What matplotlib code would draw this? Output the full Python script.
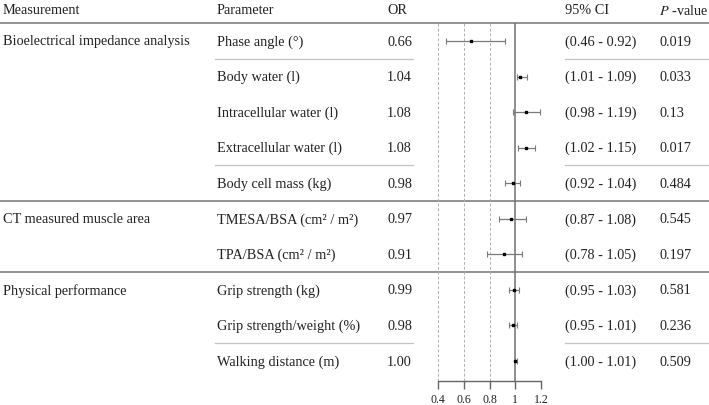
import numpy as np
import matplotlib.pyplot as plt

plt.rcParams['font.family'] = ['Liberation Serif', 'DejaVu Serif']
plt.rcParams['mathtext.fontset'] = 'stix'

# table data
groups = ['Bioelectrical impedance analysis', 'CT measured muscle area', 'Physical performance']
group_rows = [0, 5, 7]
params = ['Phase angle (°)', 'Body water (l)', 'Intracellular water (l)',
          'Extracellular water (l)', 'Body cell mass (kg)',
          'TMESA/BSA (cm² / m²)', 'TPA/BSA (cm² / m²)',
          'Grip strength (kg)', 'Grip strength/weight (%)', 'Walking distance (m)']
odds = [0.66, 1.04, 1.08, 1.08, 0.98, 0.97, 0.91, 0.99, 0.98, 1.00]
ci_low = [0.46, 1.01, 0.98, 1.02, 0.92, 0.87, 0.78, 0.95, 0.95, 1.00]
ci_high = [0.92, 1.09, 1.19, 1.15, 1.04, 1.08, 1.05, 1.03, 1.01, 1.01]
pvals = ['0.019', '0.033', '0.13', '0.017', '0.484', '0.545', '0.197', '0.581', '0.236', '0.509']
thin_after = [0, 3, 8]
xticks = [0.4, 0.6, 0.8, 1, 1.2]
xtick_labels = ['0.4', '0.6', '0.8', '1', '1.2']

W, H = 709, 406
fig = plt.figure(figsize=(W / 100, H / 100), dpi=100)

# background axes in pixel coords for the table
bg = fig.add_axes([0, 0, 1, 1])
bg.set_xlim(0, W)
bg.set_ylim(H, 0)
bg.axis('off')

row0, step = 42, 35.56
def ry(i):
    return row0 + step * i

fs = 10.3
tc = '#222222'
hy = 11
bg.text(3, hy, 'Measurement', fontsize=fs, va='center', color=tc)
bg.text(217, hy, 'Parameter', fontsize=fs, va='center', color=tc)
bg.text(387, hy, 'OR', fontsize=fs, va='center', color=tc)
bg.text(565, hy, '95% CI', fontsize=fs, va='center', color=tc)
bg.text(659, hy, r'$\mathit{P}$ -value', fontsize=fs, va='center', color=tc)

for g, r in zip(groups, group_rows):
    bg.text(3, ry(r), g, fontsize=fs, va='center', color=tc)

for i in range(len(params)):
    y = ry(i)
    bg.text(217, y, params[i], fontsize=fs, va='center', color=tc)
    bg.text(387, y, '%.2f' % odds[i], fontsize=fs, va='center', color=tc)
    bg.text(565, y, '(%.2f - %.2f)' % (ci_low[i], ci_high[i]), fontsize=fs, va='center', color=tc)
    bg.text(659, y, pvals[i], fontsize=fs, va='center', color=tc)

# thick separators
for yy in [24, (ry(4) + ry(5)) / 2, (ry(6) + ry(7)) / 2]:
    bg.plot([0, W], [yy, yy], color='#8a8a8a', lw=1.3, zorder=1)
# thin separators
for r in thin_after:
    yy = (ry(r) + ry(r + 1)) / 2
    bg.plot([215, 413], [yy, yy], color='#c4c4c4', lw=0.9)
    bg.plot([565, W], [yy, yy], color='#c4c4c4', lw=0.9)

# forest axes
x0, x1 = 438, 541
top, bot = 24, 382
ax = fig.add_axes([x0 / W, 1 - bot / H, (x1 - x0) / W, (bot - top) / H])
ax.patch.set_alpha(0)
ax.set_xlim(0.4, 1.2)
ax.set_ylim((bot - row0) / step, (top - row0) / step)
for s in ['top', 'right', 'left']:
    ax.spines[s].set_visible(False)
ax.spines['bottom'].set_color('#666666')
ax.spines['bottom'].set_linewidth(1.0)
ax.set_yticks([])
ax.set_xticks(xticks)
ax.set_xticklabels(xtick_labels, fontsize=8.6, color=tc)
ax.tick_params(axis='x', length=6, width=1.0, color='#666666', pad=3)

for t in [0.4, 0.6, 0.8, 1.2]:
    ax.axvline(t, color='#b0b0b0', lw=0.7, ls=(0, (3, 2)), zorder=1)
ax.axvline(1, color='#707070', lw=1.1, zorder=1)

yrows = np.arange(len(params))
odds_a = np.array(odds)
err = [odds_a - np.array(ci_low), np.array(ci_high) - odds_a]
ax.errorbar(odds_a, yrows, xerr=err, fmt='s', color='black', ms=1.8,
            ecolor='#7a7a7a', elinewidth=0.9, capsize=2.5, capthick=0.8, zorder=3)

fig.savefig('out.png', dpi=100)
